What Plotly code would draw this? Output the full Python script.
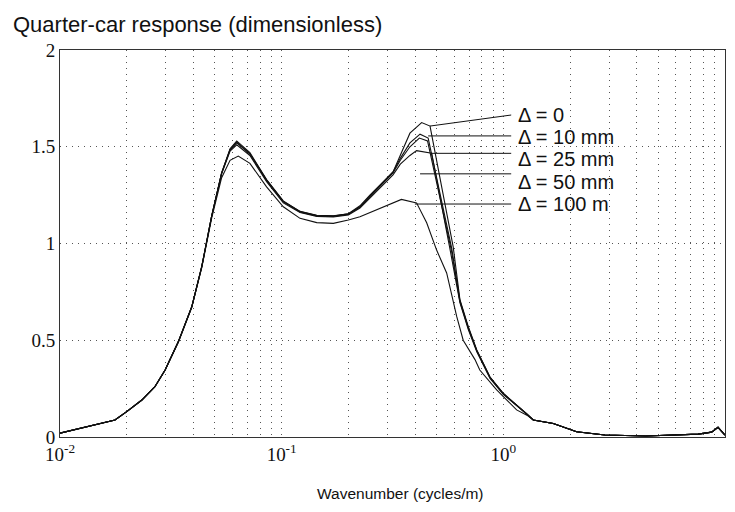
import plotly.graph_objects as go
import math

# ---------------- data ----------------
k_d0 = [0.0100, 0.0144, 0.0177, 0.0200, 0.0234, 0.0268, 0.0298, 0.0342, 0.0393, 0.0436,
        0.0483, 0.0536, 0.0585, 0.0627, 0.0719, 0.0855, 0.1017, 0.121, 0.144, 0.171,
        0.200, 0.2255, 0.250, 0.318, 0.343, 0.379, 0.405, 0.428, 0.467, 0.594,
        0.637, 0.695, 0.759, 0.871, 1.00, 1.27, 1.365, 1.68, 2.14, 2.87,
        4.40, 7.57, 8.70, 9.30, 10.0]
resp_d0 = [0.02, 0.062, 0.088, 0.131, 0.191, 0.26, 0.346, 0.493, 0.673, 0.88,
           1.14, 1.365, 1.49, 1.53, 1.47, 1.33, 1.22, 1.166, 1.146, 1.143,
           1.154, 1.195, 1.25, 1.37, 1.46, 1.57, 1.60, 1.625, 1.607, 0.983,
           0.71, 0.57, 0.45, 0.31, 0.226, 0.122, 0.088, 0.07, 0.027, 0.01,
           0.005, 0.015, 0.025, 0.05, 0.01]

k_d10 = [0.0100, 0.0144, 0.0177, 0.0200, 0.0234, 0.0268, 0.0298, 0.0342, 0.0393, 0.0436,
         0.0483, 0.0536, 0.0585, 0.0627, 0.0719, 0.0855, 0.1017, 0.121, 0.144, 0.171,
         0.200, 0.2255, 0.250, 0.318, 0.343, 0.379, 0.421, 0.458, 0.585, 0.637,
         0.695, 0.759, 0.871, 1.00, 1.27, 1.365, 1.68, 2.14, 2.87, 4.40,
         7.57, 8.70, 9.30, 10.0]
resp_d10 = [0.02, 0.062, 0.088, 0.131, 0.191, 0.26, 0.346, 0.493, 0.673, 0.88,
            1.14, 1.365, 1.485, 1.525, 1.465, 1.328, 1.217, 1.165, 1.145, 1.142,
            1.153, 1.19, 1.245, 1.37, 1.44, 1.52, 1.565, 1.545, 0.975, 0.705,
            0.565, 0.447, 0.308, 0.224, 0.122, 0.088, 0.07, 0.027, 0.01, 0.005,
            0.015, 0.025, 0.05, 0.01]

k_d25 = [0.0100, 0.0144, 0.0177, 0.0200, 0.0234, 0.0268, 0.0298, 0.0342, 0.0393, 0.0436,
         0.0483, 0.0536, 0.0585, 0.0627, 0.0719, 0.0855, 0.1017, 0.121, 0.144, 0.171,
         0.200, 0.2255, 0.250, 0.318, 0.343, 0.379, 0.418, 0.455, 0.583, 0.637,
         0.695, 0.759, 0.871, 1.00, 1.27, 1.365, 1.68, 2.14, 2.87, 4.40,
         7.57, 8.70, 9.30, 10.0]
resp_d25 = [0.02, 0.062, 0.088, 0.131, 0.191, 0.26, 0.346, 0.493, 0.673, 0.88,
            1.14, 1.363, 1.483, 1.52, 1.462, 1.326, 1.215, 1.163, 1.143, 1.14,
            1.151, 1.188, 1.24, 1.365, 1.43, 1.50, 1.545, 1.53, 0.965, 0.70,
            0.562, 0.445, 0.306, 0.222, 0.121, 0.088, 0.07, 0.027, 0.01, 0.005,
            0.015, 0.025, 0.05, 0.01]

k_d50 = [0.0100, 0.0144, 0.0177, 0.0200, 0.0234, 0.0268, 0.0298, 0.0342, 0.0393, 0.0436,
         0.0483, 0.0536, 0.0585, 0.0627, 0.0719, 0.0855, 0.1017, 0.121, 0.144, 0.171,
         0.200, 0.2255, 0.250, 0.318, 0.343, 0.379, 0.406, 0.475, 0.578, 0.637,
         0.695, 0.759, 0.871, 1.00, 1.27, 1.365, 1.68, 2.14, 2.87, 4.40,
         7.57, 8.70, 9.30, 10.0]
resp_d50 = [0.02, 0.062, 0.088, 0.131, 0.191, 0.26, 0.346, 0.493, 0.673, 0.88,
            1.14, 1.36, 1.478, 1.51, 1.455, 1.32, 1.21, 1.16, 1.14, 1.137,
            1.148, 1.183, 1.235, 1.355, 1.41, 1.455, 1.48, 1.466, 0.955, 0.695,
            0.555, 0.44, 0.303, 0.22, 0.12, 0.088, 0.07, 0.027, 0.01, 0.005,
            0.015, 0.025, 0.05, 0.01]

k_d100 = [0.0100, 0.0144, 0.0177, 0.0200, 0.0234, 0.0268, 0.0298, 0.0342, 0.0393, 0.0436,
          0.0483, 0.0536, 0.0585, 0.0637, 0.0719, 0.0855, 0.1017, 0.121, 0.144, 0.171,
          0.200, 0.2255, 0.288, 0.347, 0.406, 0.451, 0.500, 0.555, 0.616, 0.659,
          0.745, 0.783, 0.933, 1.148, 1.29, 1.365, 1.68, 2.14, 2.87, 4.40,
          7.57, 8.70, 9.30, 10.0]
resp_d100 = [0.02, 0.062, 0.088, 0.131, 0.191, 0.26, 0.346, 0.49, 0.67, 0.875,
             1.13, 1.34, 1.43, 1.452, 1.414, 1.293, 1.19, 1.13, 1.108, 1.104,
             1.121, 1.138, 1.19, 1.228, 1.21, 1.107, 0.966, 0.848, 0.623, 0.50,
             0.40, 0.346, 0.243, 0.14, 0.11, 0.088, 0.07, 0.027, 0.01, 0.005,
             0.015, 0.025, 0.05, 0.01]

series_labels = ["Δ = 0", "Δ = 10 mm", "Δ = 25 mm", "Δ = 50 mm", "Δ = 100 m"]

x_tick_vals = [0.01, 0.1, 1, 10]
x_tick_text = ["10<sup>-2</sup>", "10<sup>-1</sup>", "10<sup>0</sup>", "10<sup>1</sup>"]
x_minor_vals = [m * d for d in (0.01, 0.1, 1) for m in range(2, 10)]
y_tick_vals = [0, 0.5, 1, 1.5, 2]
y_tick_text = ["0", "0.5", "1", "1.5", "2"]

# annotation geometry (label placement, not data)
label_k = 1.14
leader_end_k = 1.085
label_v = [1.664, 1.55, 1.437, 1.318, 1.204]
leader_start = [(0.467, 1.607), (0.458, 1.556), (0.475, 1.466), (0.421, 1.36), (0.399, 1.204)]
leader_end_v = [1.664, 1.556, 1.466, 1.36, 1.204]

# ---------------- figure ----------------
# the page body adds an 8 px offset, so the figure is 8 px smaller than the window
FIG_W, FIG_H = 727, 504
ML, MR, MT, MB = 52, 10, 42, 75

fig = go.Figure()
all_series = [(k_d0, resp_d0), (k_d10, resp_d10), (k_d25, resp_d25),
              (k_d50, resp_d50), (k_d100, resp_d100)]
for (kk, rr), name in zip(all_series, series_labels):
    fig.add_trace(go.Scatter(x=kk, y=rr, mode="lines", name=name,
                             line=dict(color="#111111", width=1.1),
                             showlegend=False, hoverinfo="skip"))

for i, name in enumerate(series_labels):
    ks, vs = leader_start[i]
    # shapes on a log axis take data values
    fig.add_shape(type="line", xref="x", yref="y",
                  x0=ks, y0=vs, x1=leader_end_k, y1=leader_end_v[i],
                  line=dict(color="#111111", width=1))
    # annotations on a log axis take log10 values
    fig.add_annotation(x=math.log10(label_k), y=label_v[i], xref="x", yref="y",
                       text=name, showarrow=False, xanchor="left", yanchor="middle",
                       font=dict(family="Liberation Sans, Arial", size=20, color="#111111"))

plot_w = FIG_W - ML - MR
plot_h = FIG_H - MT - MB
fig.add_annotation(x=(392 - ML) / plot_w, y=(FIG_H - MB - 485) / plot_h,
                   xref="paper", yref="paper",
                   text="Wavenumber (cycles/m)", showarrow=False,
                   xanchor="center", yanchor="middle",
                   font=dict(family="Liberation Sans, Arial", size=15.5, color="#111111"))

grid_dash = "1px,5px"
fig.update_xaxes(type="log", range=[-2, 1], automargin=False,
                 tickmode="array", tickvals=x_tick_vals, ticktext=x_tick_text,
                 showgrid=True, gridcolor="#555555", gridwidth=1, griddash=grid_dash,
                 minor=dict(tickmode="array", tickvals=x_minor_vals, showgrid=True,
                            gridcolor="#555555", gridwidth=1, griddash=grid_dash, ticks=""),
                 showline=True, mirror=True, linecolor="#333333", linewidth=1,
                 ticks="", zeroline=False,
                 tickfont=dict(family="Liberation Serif, Times New Roman", size=19, color="#111111"))
fig.update_yaxes(range=[0, 2], automargin=False,
                 tickmode="array", tickvals=y_tick_vals, ticktext=y_tick_text,
                 showgrid=True, gridcolor="#555555", gridwidth=1, griddash=grid_dash,
                 showline=True, mirror=True, linecolor="#333333", linewidth=1,
                 ticks="", zeroline=False,
                 tickfont=dict(family="Liberation Serif, Times New Roman", size=19, color="#111111"))

fig.update_layout(
    width=FIG_W, height=FIG_H,
    margin=dict(l=ML, r=MR, t=MT, b=MB, autoexpand=False),
    paper_bgcolor="white", plot_bgcolor="white",
    title=dict(text="Quarter-car response (dimensionless)",
               x=5 / FIG_W, xanchor="left", xref="container",
               y=1 - 16 / FIG_H, yanchor="middle", yref="container", automargin=False,
               font=dict(family="Liberation Sans, Arial", size=22, color="#111111")),
    showlegend=False,
)

fig.write_html("out.html")
